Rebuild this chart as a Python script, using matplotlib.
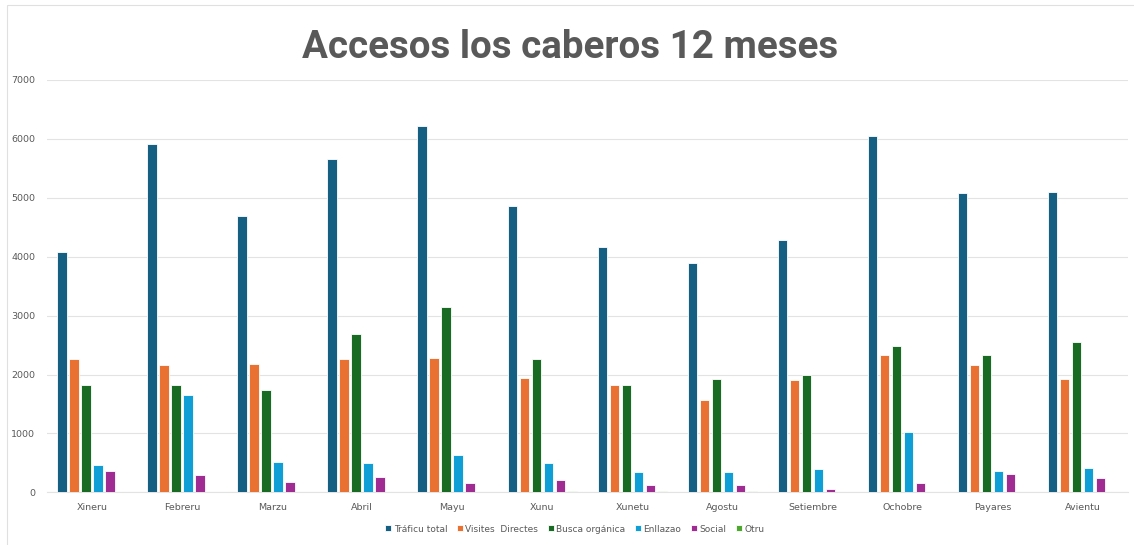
import matplotlib
matplotlib.use("Agg")
import matplotlib.pyplot as plt
from matplotlib.patches import Rectangle
import numpy as np

months = ["Xineru", "Febreru", "Marzu", "Abril", "Mayu", "Xunu", "Xunetu",
          "Agostu", "Setiembre", "Ochobre", "Payares", "Avientu"]
series_names = ["Tráficu total", "Visites  Directes", "Busca orgánica",
                "Enllazao", "Social", "Otru"]
trafico_total = [4075, 5915, 4690, 5655, 6220, 4860, 4165, 3895, 4285, 6050, 5075, 5090]
visites_directes = [2260, 2155, 2185, 2270, 2285, 1940, 1815, 1570, 1900, 2330, 2160, 1925]
busca_organica = [1815, 1825, 1740, 2680, 3145, 2260, 1815, 1920, 1990, 2485, 2330, 2550]
enllazao = [460, 1650, 520, 500, 625, 490, 345, 345, 390, 1020, 362, 407]
social = [357, 294, 181, 255, 165, 209, 119, 119, 51, 163, 305, 237]
otru = [0, 0, 0, 0, 0, 22, 20, 15, 0, 0, 0, 0]
y_ticks = [0, 1000, 2000, 3000, 4000, 5000, 6000, 7000]
title = "Accesos los caberos 12 meses"

series = [trafico_total, visites_directes, busca_organica, enllazao, social, otru]
colors = ["#156082", "#E97132", "#196B24", "#0F9ED5", "#A02B93", "#4EA72E"]

fig = plt.figure(figsize=(11.34, 5.45), dpi=100)
fig.patch.set_facecolor("white")
ax = fig.add_axes([47/1134, (545-492.3)/545, (1127.7-47)/1134, (492.3-80)/545])

x = np.arange(len(months))
pitch = 0.1333
width = 0.106
for i, (vals, c, name) in enumerate(zip(series, colors, series_names)):
    offs = (i - 2.5) * pitch
    ax.bar(x + offs, vals, width=width, color=c, edgecolor="white",
           linewidth=0.6, label=name, zorder=3)

ax.set_xlim(-0.5, 11.5)
ax.set_ylim(0, 7000)
ax.set_yticks(y_ticks)
ax.set_yticklabels([str(v) for v in y_ticks])
ax.set_xticks(x)
ax.set_xticklabels(months)
ax.tick_params(axis="both", length=0, labelsize=6.8, labelcolor="#595959")
ax.tick_params(axis="y", pad=8.5)
ax.tick_params(axis="x", pad=8)
ax.grid(axis="y", color="#e3e3e3", linewidth=0.8, zorder=0)
for s in ["top", "right", "left"]:
    ax.spines[s].set_visible(False)
ax.spines["bottom"].set_color("#e3e3e3")
ax.spines["bottom"].set_linewidth(0.8)

fig.text(570/1134, 1 - 47/545, title, ha="center", va="center",
         fontsize=27.7, fontweight="bold", color="#595959", family="Roboto")

leg = fig.legend(loc="center", bbox_to_anchor=(575/1134, 1 - 529/545),
                 ncol=6, frameon=False, fontsize=6.5, handlelength=0.6,
                 handleheight=0.6, handletextpad=0.3, columnspacing=1.1)
for t in leg.get_texts():
    t.set_color("#595959")

border = Rectangle((7/1134, -0.02), 1.05, (545-4.7)/545 + 0.02,
                   transform=fig.transFigure, fill=False,
                   edgecolor="#e0e0e0", linewidth=0.8, clip_on=False)
fig.patches.append(border)

fig.savefig("out.png", dpi=100, facecolor="white")
